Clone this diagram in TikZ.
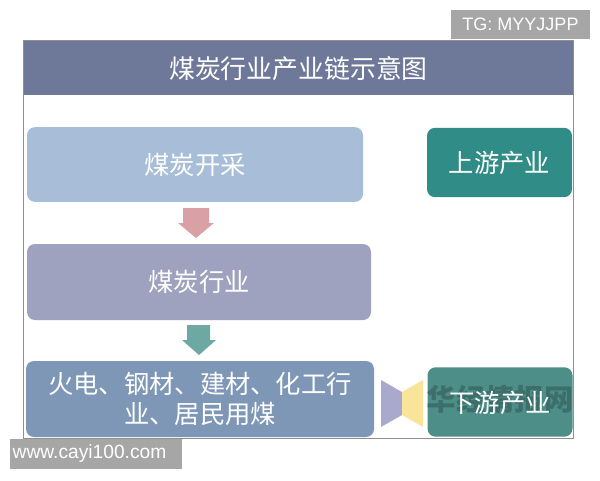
\documentclass[tikz,border=0pt]{standalone}
\usepackage{fontspec}
\newfontfamily\cjk{Noto Sans CJK SC}
\setmainfont{Liberation Sans}
\definecolor{band}{HTML}{6E7899}
\definecolor{frame}{HTML}{8E8E8E}
\definecolor{mining}{HTML}{A8BDD8}
\definecolor{industry}{HTML}{9EA2BF}
\definecolor{users}{HTML}{7F97B6}
\definecolor{upteal}{HTML}{2F8C86}
\definecolor{downteal}{HTML}{4D8E89}
\definecolor{pinkarrow}{HTML}{D9A1A6}
\definecolor{tealarrow}{HTML}{6DA8A3}
\definecolor{funnelL}{HTML}{A9A9CD}
\definecolor{funnelR}{HTML}{F8E59A}
\definecolor{mark}{HTML}{A6A6A6}
\tikzset{
  box/.style={rounded corners=6pt, text=white, font=\cjk\fontsize{19}{24}\selectfont,
    align=center, inner sep=0pt},
  tag/.style={fill=mark, text=white, inner sep=0pt}
}
\begin{document}
\begin{tikzpicture}[x=0.75pt, y=-0.75pt]
    \useasboundingbox (0,0) rectangle (600,480);
    % frame and title
    \draw[frame, line width=0.75pt] (23,40) rectangle (573,438);
    \fill[band] (23.5,40.5) rectangle (572.5,95);
    \node[text=white, font=\cjk\fontsize{19.4}{22}\selectfont] (title) at (298.5,69) {煤炭行业产业链示意图};
    % chain boxes
    \node[box, fill=mining, minimum width=252pt, minimum height=56pt] (mining) at (195,164.5) {煤炭开采};
    \node[box, fill=industry, minimum width=258pt, minimum height=57pt] (industry) at (199,282) {煤炭行业};
    \node[box, fill=users, minimum width=261pt, minimum height=57pt] (users) at (200,399)
        {火电、钢材、建材、化工行\\[-2pt]业、居民用煤};
    \node[box, fill=upteal, minimum width=108.75pt, minimum height=52pt] (upstream) at (499.5,162.5) {上游产业};
    \node[box, fill=downteal, minimum width=108.75pt, minimum height=52pt] (downstream) at (500,402) {};
    \node[text=black, opacity=0.22, font=\cjk\fontsize{22}{24}\selectfont\bfseries] (wm) at (500,399) {华经情报网};
    \node[text=white, font=\cjk\fontsize{19}{24}\selectfont] (downlabel) at (500,403) {下游产业};
    % arrows
    \fill[pinkarrow] (183,208) -- (209,208) -- (209,223) -- (214,223) -- (196,238)
        -- (178,223) -- (183,223) -- cycle;
    \fill[tealarrow] (187,325) -- (210,325) -- (210,340) -- (216,340) -- (199,355)
        -- (182,340) -- (187,340) -- cycle;
    % funnel
    \fill[funnelL] (381,380) -- (402,392) -- (402,415) -- (381,427) -- cycle;
    \fill[funnelR] (402,392) -- (423,380) -- (423,427) -- (402,415) -- cycle;
    % tags
    \node[tag, font=\fontsize{13.5}{16}\selectfont, minimum width=104.25pt, minimum height=22pt] (tg) at (520.5,24.5) {TG: MYYJJPP};
    \node[tag, font=\fontsize{14.4}{16}\selectfont, minimum width=129pt, minimum height=22.5pt, text width=125pt, align=left] (site) at (96,454) {www.cayi100.com};
\end{tikzpicture}
\end{document}
